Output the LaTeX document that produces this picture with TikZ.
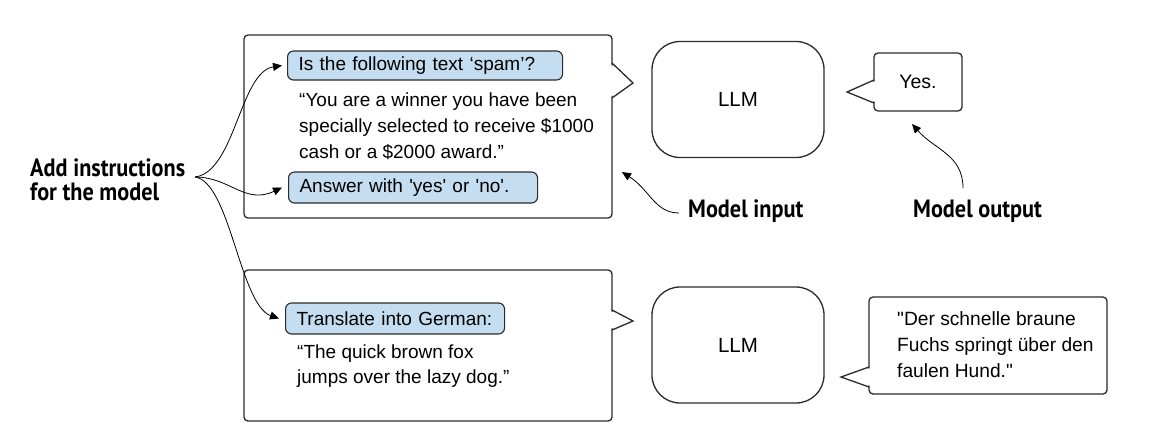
\documentclass[tikz,border=0pt]{standalone}
\usepackage{fontspec}
\setmainfont{Liberation Sans}
\newfontfamily\lblfont{PT Sans}[FakeStretch=0.89]
\usetikzlibrary{arrows.meta}
\definecolor{instrblue}{HTML}{C4DDF0}
\definecolor{edge}{HTML}{2B2B2B}
\begin{document}
\begin{tikzpicture}[x=1pt,y=-1pt,
 box/.style={draw=edge, line width=1.3pt, rounded corners=4pt, inner sep=0pt, fill=white},
 llm/.style={draw=edge, line width=1.3pt, rounded corners=28pt, minimum width=172pt, minimum height=116pt, font=\fontsize{20.5}{24}\selectfont},
 instr/.style={draw=edge, line width=1.1pt, fill=instrblue, rounded corners=6pt, inner xsep=11pt, inner ysep=0pt, align=left, anchor=west, font=\fontsize{19}{22}\selectfont},
 body/.style={anchor=base west, inner sep=0pt, font=\fontsize{19}{22}\selectfont},
 outtxt/.style={anchor=base west, inner sep=0pt, font=\fontsize{19.2}{24}\selectfont},
 lbl/.style={anchor=base west, inner sep=0pt, font=\lblfont\bfseries\fontsize{25}{28}\selectfont},
 arr/.style={draw=black, line width=0.8pt, -{Triangle[length=9pt,width=8pt]}},
 ptr/.style={draw=edge, line width=1.3pt, line join=miter},
]
\useasboundingbox (0,0) rectangle (1166,440);
\fill[white] (0,0) rectangle (1166,440);

% input boxes
\node[box, minimum width=368pt, minimum height=183pt] (in1) at (428,126.5) {};
\fill[white] (610,64) -- (633,83) -- (610,97) -- cycle;
\draw[ptr] (612,63) -- (633,83) -- (612,98);
\node[box, minimum width=368pt, minimum height=151pt] (in2) at (428,345.5) {};
\fill[white] (610,311) -- (633,321) -- (610,329) -- cycle;
\draw[ptr] (612,310) -- (633,321) -- (612,330);

% LLM boxes
\node[llm] (llm1) at (738,99.5) {LLM};
\node[llm] (llm2) at (738,345) {LLM};

% output boxes
\node[box, minimum width=88pt, minimum height=58pt, font=\fontsize{19.5}{24}\selectfont] (out1) at (918,82) {Yes.};
\fill[white] (876,81) -- (847,92) -- (876,102) -- cycle;
\draw[ptr] (874,80) -- (847,92) -- (874,103);
\node[box, minimum width=238pt, minimum height=97pt] (out2) at (988,345.5) {};
\fill[white] (871,368) -- (841,377) -- (871,386) -- cycle;
\draw[ptr] (869,367) -- (841,377) -- (869,387);

% instructions
\node[instr, text width=253pt, minimum height=29pt] (q1) at (287,65.5) {Is the following text ‘spam’?};
\node[instr, text width=227pt, minimum height=31pt] (q2) at (288,187.5) {Answer with \textquotesingle yes\textquotesingle{} or \textquotesingle no\textquotesingle.};
\node[instr, text width=197pt, minimum height=31pt] (q3) at (285,318.5) {Translate into German:};

% body texts
\node[body] (t1) at (299,106) {“You are a winner you have been};
\node[body] (t2) at (299,132) {specially selected to receive \$1000};
\node[body] (t3) at (299,158) {cash or a \$2000 award.”};
\node[body] (t4) at (297,358) {“The quick brown fox};
\node[body] (t5) at (297,383) {jumps over the lazy dog.”};

\node[outtxt] (g1) at (897,325) {\textquotedbl Der schnelle braune};
\node[outtxt] (g2) at (897,351) {Fuchs springt über den};
\node[outtxt] (g3) at (897,377) {faulen Hund.\textquotedbl};

% labels
\node[lbl] (add1) at (30,176) {Add instructions};
\node[lbl] (add2) at (30,200) {for the model};
\node[lbl] (minput) at (688,217) {Model input};
\node[lbl] (moutput) at (913,217) {Model output};

% connectors
\coordinate (src) at (195,177);
\draw[arr] (src) .. controls (235,172) and (240,72) .. ([xshift=-5pt]q1.west);
\draw[arr] (src) .. controls (230,177) and (245,205) .. ([xshift=-6pt]q2.west);
\draw[arr] (src) .. controls (230,182) and (240,305) .. ([xshift=-6pt]q3.west);

\coordinate (minS) at (679,213);
\coordinate (inptr) at (622,172);
\draw[arr] (minS) .. controls (655,213) and (650,190) .. (inptr);
\coordinate (moutS) at (963,188);
\coordinate (outptr) at (912,124);
\draw[arr] (moutS) .. controls (963,155) and (935,150) .. (outptr);
\end{tikzpicture}
\end{document}
